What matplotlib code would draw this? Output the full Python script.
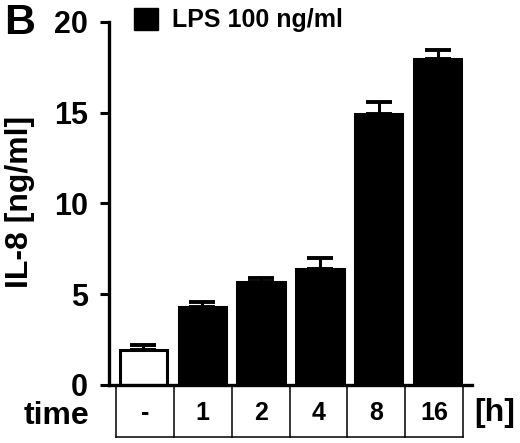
import matplotlib
matplotlib.use('Agg')
import matplotlib.pyplot as plt
import matplotlib.transforms as mtransforms
import numpy as np

plt.rcParams['font.family'] = ['Liberation Sans', 'DejaVu Sans']
plt.rcParams['font.weight'] = 'bold'

# IL-8 release after LPS 100 ng/ml
time_labels = ['-', '1', '2', '4', '8', '16']
il8_mean = [1.95, 4.3, 5.65, 6.4, 14.95, 17.95]
il8_err = [0.25, 0.3, 0.25, 0.6, 0.65, 0.5]
bar_colors = ['white', 'black', 'black', 'black', 'black', 'black']
y_ticks = [0, 5, 10, 15, 20]

fig = plt.figure(figsize=(5.2, 4.43), dpi=100)
ax = fig.add_axes([109 / 520, 58 / 443, 363 / 520, 363 / 443])

x = np.arange(len(il8_mean))
ax.bar(x, il8_mean, width=0.8, color=bar_colors, edgecolor='black', linewidth=2.2, zorder=2)
ax.errorbar(x, il8_mean, yerr=[np.zeros(len(il8_err)), il8_err], fmt='none',
            ecolor='black', elinewidth=2.2, capsize=9.5, capthick=2.8, zorder=1)

ax.set_xlim(-0.58, 5.58)
ax.set_ylim(0, 20)
ax.set_yticks(y_ticks)
ax.set_xticks([])
for side in ['top', 'right']:
    ax.spines[side].set_visible(False)
for side in ['left', 'bottom']:
    ax.spines[side].set_linewidth(2.4)
ax.tick_params(axis='y', length=6.5, width=2.2, pad=8.5, labelsize=22)
for lab in ax.get_yticklabels():
    lab.set_fontweight('bold')

# time table under the bars
trans = mtransforms.blended_transform_factory(ax.transData, ax.transAxes)
edges = np.linspace(-0.46, 5.43, len(time_labels) + 1)
for e in edges:
    ax.plot([e, e], [0, -0.143], color='black', lw=1.1, transform=trans, clip_on=False)
ax.plot([edges[0], edges[-1]], [-0.143, -0.143], color='black', lw=1.1,
        transform=trans, clip_on=False)
centers = (edges[:-1] + edges[1:]) / 2
for c, t in zip(centers, time_labels):
    ax.text(c, -0.077, t, transform=trans, ha='center', va='center',
            fontsize=18, fontweight='bold')

fig.text(57 / 520, 1 - 416 / 443, 'time', ha='center', va='center', fontsize=23, fontweight='bold')
fig.text(495 / 520, 1 - 413 / 443, '[h]', ha='center', va='center', fontsize=23, fontweight='bold')
fig.text(20 / 520, 1 - 202 / 443, 'IL-8 [ng/ml]', rotation=90, ha='center', va='center',
         fontsize=23, fontweight='bold')
fig.text(20 / 520, 1 - 23 / 443, 'B', ha='center', va='center', fontsize=31, fontweight='bold')

handle = plt.Rectangle((0, 0), 1, 1, facecolor='black', edgecolor='black')
leg = ax.legend([handle], ['LPS 100 ng/ml'], loc='upper left',
                bbox_to_anchor=(134 / 520, 1 - 8 / 443), bbox_transform=fig.transFigure,
                frameon=False, borderpad=0, borderaxespad=0, handlelength=0.95,
                handleheight=0.95, handletextpad=0.55, prop={'size': 18, 'weight': 'bold'})

fig.savefig('out.png', dpi=100)
